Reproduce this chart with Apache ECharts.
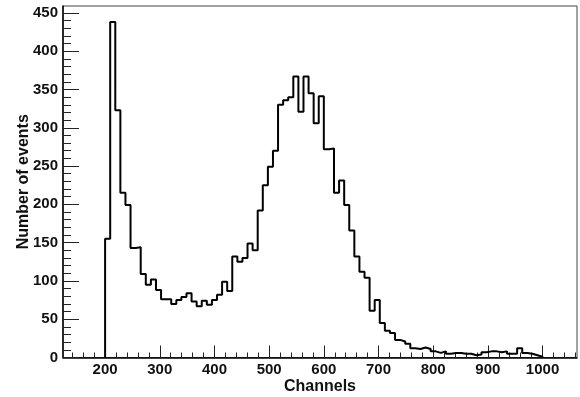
<!DOCTYPE html>
<html>
<head>
<meta charset="utf-8">
<script src="https://cdn.jsdelivr.net/npm/echarts@6/dist/echarts.min.js"></script>
<style>
  html, body { margin: 0; padding: 0; background: #fff; }
  #chart { width: 580px; height: 397px; }
</style>
</head>
<body>
<div id="chart"></div>
<script>
// histogram: 86 bins from channel 200 to 1000
const binStart = 200
const binEnd = 1000
const counts = [
  155, 438, 323, 215, 199, 143, 144, 109, 95, 102,
  88, 76, 76, 70, 75, 79, 84, 73, 67, 74,
  69, 75, 82, 99, 87, 132, 125, 130, 149, 140,
  192, 225, 249, 270, 330, 336, 340, 367, 321, 367,
  345, 306, 341, 272, 273, 215, 231, 199, 166, 132,
  112, 104, 61, 75, 45, 35, 32, 23, 21, 18,
  12, 11, 13, 11, 8, 6, 8, 5, 6, 6,
  5, 5, 3, 4, 7, 8, 8, 7, 8, 5,
  5, 12, 6, 5, 3, 1
]
const xTicks = [200, 300, 400, 500, 600, 700, 800, 900, 1000]
const yTicks = [0, 50, 100, 150, 200, 250, 300, 350, 400, 450]

const xMin = 123
const xMax = 1063
const yMax = 459

const binWidth = (binEnd - binStart) / counts.length

// step line points: left edge of each bin, closed down to 0 at both ends
const points = [[binStart, 0]]
counts.forEach((c, i) => points.push([binStart + i * binWidth, c]))
points.push([binEnd, counts[counts.length - 1]])
points.push([binEnd, 0])

// minor ticks between labelled ticks
const xMinor = []
for (let v = 140; v < xMax; v += 20) if (v % 100 !== 0) xMinor.push(v)
const yMinor = []
for (let v = 10; v < yMax; v += 10) if (v % 50 !== 0) yMinor.push(v)

const labelFont = {
  fontFamily: 'Liberation Sans, Arial, sans-serif',
  fontWeight: 'bold',
  fontSize: 15,
  color: '#111',
  formatter: v => String(v)
}
const nameFont = {
  fontFamily: 'Liberation Sans, Arial, sans-serif',
  fontWeight: 'bold',
  fontSize: 16,
  color: '#111'
}

const chart = echarts.init(document.getElementById('chart'), null, { renderer: 'canvas' })
chart.setOption({
  animation: false,
  backgroundColor: '#fff',
  grid: {
    left: 63,
    right: 3,
    top: 6,
    bottom: 39.5,
    outerBoundsMode: 'none',
    containLabel: false,
    show: true,
    borderColor: '#444',
    borderWidth: 1
  },
  xAxis: [
    {
      type: 'value',
      min: xMin,
      max: xMax,
      position: 'bottom',
      name: 'Channels',
      nameLocation: 'middle',
      nameGap: 21,
      nameMoveOverlap: false,
      nameTextStyle: nameFont,
      axisLine: { show: true, onZero: false, lineStyle: { color: '#000', width: 1.5 } },
      axisTick: { show: true, inside: true, length: 12, customValues: xTicks, lineStyle: { color: '#222', width: 1 } },
      axisLabel: Object.assign({ margin: 5, customValues: xTicks }, labelFont),
      splitLine: { show: false }
    },
    {
      type: 'value',
      min: xMin,
      max: xMax,
      position: 'bottom',
      axisLine: { show: false },
      axisTick: { show: true, inside: true, length: 5, customValues: xMinor, lineStyle: { color: '#222', width: 1 } },
      axisLabel: { show: false },
      splitLine: { show: false }
    }
  ],
  yAxis: [
    {
      type: 'value',
      min: 0,
      max: yMax,
      position: 'left',
      name: 'Number of events',
      nameLocation: 'middle',
      nameGap: 31,
      nameMoveOverlap: false,
      nameTextStyle: nameFont,
      axisLine: { show: true, onZero: false, lineStyle: { color: '#000', width: 1.5 } },
      axisTick: { show: true, inside: true, length: 16, customValues: yTicks, lineStyle: { color: '#222', width: 1 } },
      axisLabel: Object.assign({ margin: 5, customValues: yTicks }, labelFont),
      splitLine: { show: false }
    },
    {
      type: 'value',
      min: 0,
      max: yMax,
      position: 'left',
      axisLine: { show: false },
      axisTick: { show: true, inside: true, length: 8, customValues: yMinor, lineStyle: { color: '#222', width: 1 } },
      axisLabel: { show: false },
      splitLine: { show: false }
    }
  ],
  series: [
    {
      type: 'line',
      xAxisIndex: 0,
      yAxisIndex: 0,
      data: points,
      step: 'end',
      showSymbol: false,
      symbol: 'none',
      clip: true,
      lineStyle: { color: '#000', width: 2 }
    }
  ]
})
</script>
</body>
</html>
